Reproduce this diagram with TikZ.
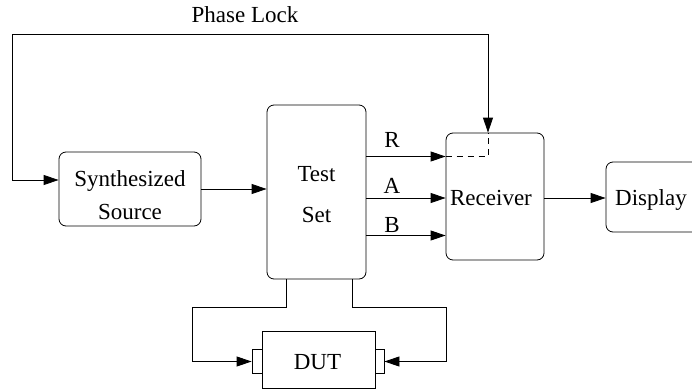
\documentclass[tikz,border=0pt]{standalone}
\usepackage{fontspec}
\setmainfont{Liberation Serif}
\usetikzlibrary{arrows.meta}
\begin{document}
\begin{tikzpicture}[x=1pt,y=-1pt,
  line width=0.8pt,
  tip/.tip={Triangle[length=15pt,width=10pt]},
  arr/.style={-tip},
  rbox/.style 2 args={draw, rounded corners=7pt, inner sep=0pt, minimum width=#1, minimum height=#2},
  sbox/.style 2 args={draw, inner sep=0pt, minimum width=#1, minimum height=#2},
  txt/.style={font=\fontsize{23}{28}\selectfont, inner sep=0pt},
  dashline/.style={dash pattern=on 6pt off 5pt}
]
\useasboundingbox (0,0) rectangle (692,391);
\clip (0,0) rectangle (692,391);

% boxes
\node[rbox={142pt}{74pt}] (synth) at (130,189) {};
\node[txt, align=center, font=\fontsize{23}{33}\selectfont] (synthtxt) at (130,194.7) {Synthesized\\Source};
\node[rbox={99pt}{174pt}] (test) at (316.5,192) {};
\node[txt, align=center, font=\fontsize{23}{41}\selectfont] (testtxt) at (316.5,195) {Test\\Set};
\node[rbox={98pt}{127pt}] (recv) at (495,196.5) {};
\node[txt, anchor=base] (recvtxt) at (491,205) {Receiver};
\node[rbox={100pt}{70pt}] (disp) at (656,197) {};
\node[txt, anchor=base] (disptxt) at (651,205) {Display};
\node[sbox={113pt}{57pt}] (dut) at (318.5,359.5) {};
\node[txt, anchor=base] (duttxt) at (317.5,369) {DUT};
\node[sbox={10pt}{24pt}] (portL) at (257,361.5) {};
\node[sbox={9pt}{24pt}] (portR) at (379.5,361.5) {};

% labels
\node[txt, anchor=base] (pltxt) at (245,22) {Phase Lock};
\node[txt, anchor=base] (lblR) at (392,147) {R};
\node[txt, anchor=base] (lblA) at (392,193) {A};
\node[txt, anchor=base] (lblB) at (392,232) {B};

% coordinates
\coordinate (rowR) at (0,156.5);
\coordinate (rowA) at (0,198);
\coordinate (rowB) at (0,235.5);
\coordinate (plA) at (12,180);
\coordinate (plC) at (12,34);
\coordinate (plD) at (488,34);
\coordinate (dl1) at (286,307);
\coordinate (dl2) at (192,307);
\coordinate (dr1) at (352,307);
\coordinate (dr2) at (446,307);

% connectors
\draw[tip-tip] (synth.west |- plA) -- (plA) -- (plC) -- (plD) -- (recv.north -| plD);
\draw[dashline] (recv.west |- rowR) -- (plD |- rowR) -- (recv.north -| plD);
\draw[arr] (synth.east) -- (synth.east -| test.west);
\draw[arr] (test.east |- rowR) -- (recv.west |- rowR);
\draw[arr] (test.east |- rowA) -- (recv.west |- rowA);
\draw[arr] (test.east |- rowB) -- (recv.west |- rowB);
\draw[arr] (recv.east |- rowA) -- (disp.west |- rowA);
\draw[arr] (test.south -| dl1) -- (dl1) -- (dl2) -- (dl2 |- portL.west) -- (portL.west);
\draw[arr] (test.south -| dr1) -- (dr1) -- (dr2) -- (dr2 |- portR.east) -- (portR.east);
\end{tikzpicture}
\end{document}
